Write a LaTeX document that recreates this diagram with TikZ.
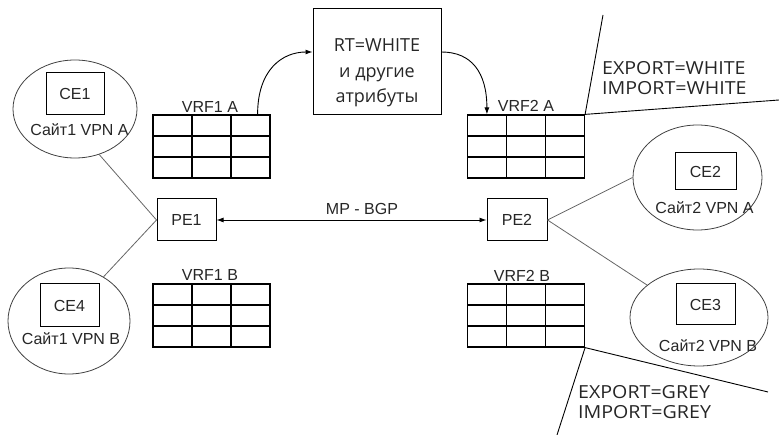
\documentclass[tikz,border=0pt]{standalone}
\usepackage{fontspec}
\setmainfont{Liberation Sans}
\newfontfamily\segfont{Open Sans}
\newfontfamily\expfont[FakeStretch=1.09]{Open Sans}
\usetikzlibrary{shapes.geometric,arrows.meta,calc}
\begin{document}
\begin{tikzpicture}[x=1pt,y=-1pt,
  txt/.style={font=\fontsize{16}{18}\selectfont, text=black!85, inner sep=0pt},
  stxt/.style={font=\expfont\fontsize{18}{20}\selectfont, text=black!85, inner sep=0pt},
  vrf/.style={draw, line width=1.2pt, minimum width=117pt, minimum height=63pt, inner sep=0pt,
    path picture={
      \foreach \k in {1,2}{
        \draw[line width=1.2pt] ($(path picture bounding box.north west)!\k/3!(path picture bounding box.north east)$) -- ($(path picture bounding box.south west)!\k/3!(path picture bounding box.south east)$);
        \draw[line width=1.2pt] ($(path picture bounding box.north west)!\k/3!(path picture bounding box.south west)$) -- ($(path picture bounding box.north east)!\k/3!(path picture bounding box.south east)$);
      }
    }},
  site/.style={draw=black!75, ellipse, line width=0.8pt, inner sep=0pt},
  cebox/.style={draw, line width=1pt, inner sep=0pt, txt},
  link/.style={draw=black!60, line width=0.8pt},
  tip/.style={-{Latex[length=7pt,width=5pt]}},
  line/.style={draw, line width=0.9pt}
]
\useasboundingbox (0,0) rectangle (779,435);

% VRF tables
\node[vrf] (vrf1a) at (211.5,146.5) {};
\node[vrf] (vrf1b) at (211.5,315.5) {};
\node[vrf] (vrf2a) at (526,146.5) {};
\node[vrf] (vrf2b) at (526,315.5) {};
\node[txt] (l1a) at (210,107) {VRF1 A};
\node[txt] (l1b) at (210,275) {VRF1 B};
\node[txt] (l2a) at (526,106) {VRF2 A};
\node[txt] (l2b) at (522,276) {VRF2 B};

% PE routers
\node[cebox, minimum width=59pt, minimum height=42pt] (pe1) at (186.5,220) {PE1};
\node[cebox, minimum width=60pt, minimum height=42pt] (pe2) at (517,220) {PE2};

% sites
\node[site, minimum width=124pt, minimum height=98pt] (s1) at (75,109) {};
\node[cebox, minimum width=58pt, minimum height=42pt] (ce1) at (75,94) {CE1};
\node[txt] (t1) at (79.5,130) {Сайт1 VPN A};

\node[site, minimum width=122pt, minimum height=106pt] (s4) at (69,321) {};
\node[cebox, minimum width=59pt, minimum height=43pt] (ce4) at (69.5,305.5) {CE4};
\node[txt] (t4) at (71,339) {Сайт1 VPN B};

\node[site, minimum width=129pt, minimum height=105pt] (s2) at (697.5,177.5) {};
\node[cebox, minimum width=61pt, minimum height=37pt] (ce2) at (705.5,171.5) {CE2};
\node[txt] (t2) at (704.5,208) {Сайт2 VPN A};

\node[site, minimum width=138pt, minimum height=97pt] (s3) at (699,317.5) {};
\node[cebox, minimum width=59pt, minimum height=41pt] (ce3) at (705.5,304.5) {CE3};
\node[txt] (t3) at (708,346) {Сайт2 VPN B};

% links to PE
\draw[link] (s1.-62) -- (pe1.west);
\draw[link] (s4.52) -- (pe1.west);
\draw[link] (pe2.east) -- (s2.west);
\draw[link] (pe2.east) -- (s3.148);

% MP-BGP
\draw[line, {Latex[length=7pt,width=5pt]}-{Latex[length=7pt,width=5pt]}] (pe1.east) -- (pe2.west);
\node[txt] (bgp) at (362,209) {MP - BGP};

% RT box
\node[draw, line width=1pt, minimum width=128pt, minimum height=106pt, inner sep=0pt] (rt) at (377,62) {};
\node[font=\segfont\fontsize{18}{25.5}\selectfont, text=black!85, align=center, inner sep=0pt] (rtt) at (377,73)
  {RT=WHITE\\и другие\\ атрибуты};
\draw[line, tip] ([xshift=-13pt]vrf1a.north east) .. controls +(0,-45) and +(-30,0) .. ([yshift=10pt]rt.west);
\draw[line, tip] ([yshift=10pt]rt.east) .. controls +(30,0) and +(0,-42) .. ([xshift=20pt]vrf2a.north west);

% export/import
\coordinate (ea) at (603,15);
\coordinate (eb) at (779,100);
\draw[line] (ea) -- (vrf2a.north east) -- (eb);
\node[stxt, anchor=west] (exw) at (602,68) {EXPORT=WHITE};
\node[stxt, anchor=west] (imw) at (602,88) {IMPORT=WHITE};

\coordinate (ga) at (557,435);
\coordinate (gb) at (768,392);
\draw[line] (ga) -- (vrf2b.south east) -- (gb);
\node[stxt, anchor=west] (exg) at (578,392) {EXPORT=GREY};
\node[stxt, anchor=west] (img) at (578,412) {IMPORT=GREY};
\end{tikzpicture}
\end{document}
